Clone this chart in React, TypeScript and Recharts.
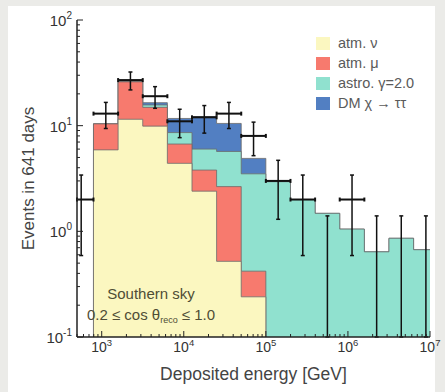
import React from 'react';
import { ComposedChart, Area, Scatter, ErrorBar, XAxis, YAxis, Legend } from 'recharts';

// log10 of the bin edges (GeV)
const binEdgesLog = [2.6, 2.9, 3.2, 3.5, 3.8, 4.1, 4.4, 4.7, 5.0, 5.3, 5.6, 5.9, 6.2, 6.5, 6.8, 7.1];
// model components per bin
const atmNu = [0, 5.9, 11.5, 9.9, 4.4, 2.4, 0.52, 0.24, 0, 0, 0, 0, 0, 0, 0];
const atmMu = [0, 4.5, 14.5, 5.0, 2.3, 1.4, 2.13, 0.18, 0, 0, 0, 0, 0, 0, 0];
const astro = [0, 0, 0, 0.8, 1.9, 2.2, 3.05, 3.08, 2.95, 2.0, 1.48, 1.05, 0.64, 0.86, 0.67];
const darkMatter = [0, 0, 0, 0.8, 3.1, 6.2, 4.8, 1.4, 0.05, 0, 0, 0, 0, 0, 0];
// observed events and their error bars (upper end for empty bins is an upper value)
const observed = [2, 13, 27, 19, 11, 12, 13, 8, 3, 2, 0, 2, 0, 0, 0];
const errLow = [1.41, 3.6, 5.2, 4.4, 3.3, 3.5, 3.6, 2.8, 1.7, 1.41, 0, 1.41, 0, 0, 0];
const errHigh = [1.41, 3.6, 5.2, 4.4, 3.3, 3.5, 3.6, 2.8, 1.7, 1.41, 1.4, 1.41, 1.4, 1.4, 1.4];

const xMajorTicks = [1e3, 1e4, 1e5, 1e6, 1e7];
const yMajorTicks = [0.1, 1, 10, 100];
const minorMultipliers = [2, 3, 4, 5, 6, 7, 8, 9];

const seriesNames = ['atm. ν', 'atm. μ', 'astro. γ=2.0', 'DM χ → ττ'];
const seriesColors = ['#fbf7c0', '#f77a6e', '#90e1cf', '#527fc2'];

const annotationLine1 = 'Southern sky';

const X_DOMAIN = [500, 1e7];
const Y_DOMAIN = [0.1, 100];
const FLOOR = 1e-3; // stand-in for zero on the log axis (clipped away)

const withMinors = (majors: number[], lo: number, hi: number) => {
  const out: number[] = [];
  majors.forEach((m) => {
    out.push(m);
    minorMultipliers.forEach((k) => out.push((m / 10) * k));
  });
  return out.filter((v) => v >= lo && v <= hi).sort((a, b) => a - b);
};
const xTicks = withMinors([...xMajorTicks], X_DOMAIN[0], X_DOMAIN[1]);
const yTicks = withMinors([...yMajorTicks], Y_DOMAIN[0], Y_DOMAIN[1]);

const edges = binEdgesLog.map((l) => Math.pow(10, l));
const nBins = observed.length;

const areaData = (() => {
  const rows: any[] = [];
  for (let i = 0; i <= nBins; i++) {
    const b = Math.min(i, nBins - 1);
    const c1 = atmNu[b];
    const c2 = c1 + atmMu[b];
    const c3 = c2 + astro[b];
    const c4 = c3 + darkMatter[b];
    const f = (v: number) => (v > 0 ? v : FLOOR);
    rows.push({ x: edges[i], c1: f(c1), c2: f(c2), c3: f(c3), c4: f(c4) });
  }
  return rows;
})();

const centers = binEdgesLog.slice(0, nBins).map((l, i) => Math.pow(10, (l + binEdgesLog[i + 1]) / 2));
const clampX = (v: number) => Math.min(Math.max(v, X_DOMAIN[0]), X_DOMAIN[1]);
const obsPoints = observed
  .map((n, i) => ({
    x: centers[i],
    y: n,
    ex: [centers[i] - clampX(edges[i]), clampX(edges[i + 1]) - centers[i]],
    ey: [errLow[i], errHigh[i]],
  }))
  .filter((p) => p.y > 0);
// empty bins: drawn from the axis floor up to the upper value
const zeroPoints = observed
  .map((n, i) => ({ x: centers[i], y: Y_DOMAIN[0], ey: [0, errHigh[i] - Y_DOMAIN[0]], n }))
  .filter((p) => p.n === 0);

const isMajor = (v: number) => Math.abs(Math.log10(v) - Math.round(Math.log10(v))) < 1e-6;
const TICK = '#222';

const BottomTick = (props: any) => {
  const { x, y, payload } = props;
  const v = payload.value;
  const major = isMajor(v);
  const exp = Math.round(Math.log10(v));
  return (
    <g>
      <line x1={x} x2={x} y1={y} y2={y - (major ? 6 : 3)} stroke={TICK} strokeWidth={1} />
      {major && (
        <text x={x} y={y + 15} textAnchor="middle" fontSize={14} fill="#333">
          10<tspan dy={-6} fontSize={9.5}>{exp}</tspan>
        </text>
      )}
    </g>
  );
};
const TopTick = (props: any) => {
  const { x, y, payload } = props;
  const major = isMajor(payload.value);
  return <line x1={x} x2={x} y1={y} y2={y + (major ? 6 : 3)} stroke={TICK} strokeWidth={1} />;
};
const LeftTick = (props: any) => {
  const { x, y, payload } = props;
  const v = payload.value;
  const major = isMajor(v);
  const exp = Math.round(Math.log10(v));
  return (
    <g>
      <line x1={x} x2={x + (major ? 6 : 3)} y1={y} y2={y} stroke={TICK} strokeWidth={1} />
      {major && (
        <text x={x - 5} y={y + 6} textAnchor="end" fontSize={15} fill="#333">
          10<tspan dy={-7} fontSize={10}>{exp}</tspan>
        </text>
      )}
    </g>
  );
};
const RightTick = (props: any) => {
  const { x, y, payload } = props;
  const major = isMajor(payload.value);
  return <line x1={x} x2={x - (major ? 6 : 3)} y1={y} y2={y} stroke={TICK} strokeWidth={1} />;
};

const EmptyShape = () => <g />;

const LegendContent = () => (
  <div style={{ fontFamily: '"Liberation Sans", Arial, sans-serif' }}>
    {seriesNames.map((name, i) => (
      <div key={name} style={{ display: 'flex', alignItems: 'center', height: 20 }}>
        <span
          style={{
            display: 'inline-block',
            width: 14,
            height: 13,
            background: seriesColors[i],
            marginRight: 8,
          }}
        />
        <span style={{ fontSize: 14.5, color: '#5a5a5a', whiteSpace: 'nowrap' }}>{name}</span>
      </div>
    ))}
  </div>
);

const axisLine = { stroke: '#222', strokeWidth: 1.5 };
const outline = '#6b6b6b';

export default function App() {
  return (
    <div
      style={{
        position: 'fixed',
        left: 0,
        top: 0,
        width: 445,
        height: 392,
        background: '#ebebe8',
        overflow: 'hidden',
        fontFamily: '"Liberation Sans", Arial, sans-serif',
      }}
    >
      <div style={{ position: 'absolute', left: 8, top: 6, width: 427, height: 386, background: '#ffffff' }} />
      <div style={{ position: 'absolute', left: 0, top: 0 }}>
        <ComposedChart width={445} height={392} data={areaData} margin={{ top: 20, right: 15, bottom: 0, left: 0 }}>
          <XAxis
            dataKey="x"
            type="number"
            scale="log"
            domain={X_DOMAIN}
            allowDataOverflow
            ticks={xTicks}
            interval={0}
            tick={BottomTick}
            tickLine={false}
            tickSize={0}
            tickMargin={0}
            height={55}
            axisLine={axisLine}
            label={{ value: 'Deposited energy [GeV]', position: 'insideBottom', offset: 12, fontSize: 17.5, fill: '#444' }}
          />
          <XAxis
            xAxisId="top"
            orientation="top"
            type="number"
            scale="log"
            domain={X_DOMAIN}
            allowDataOverflow
            ticks={xTicks}
            interval={0}
            tick={TopTick}
            tickLine={false}
            tickSize={0}
            tickMargin={0}
            height={0}
            axisLine={axisLine}
          />
          <YAxis
            type="number"
            scale="log"
            domain={Y_DOMAIN}
            allowDataOverflow
            ticks={yTicks}
            interval={0}
            tick={LeftTick}
            tickLine={false}
            tickSize={0}
            tickMargin={0}
            width={77}
            axisLine={axisLine}
            label={{
              value: 'Events in 641 days',
              angle: -90,
              position: 'insideLeft',
              offset: 28,
              fontSize: 17,
              fill: '#444',
              style: { textAnchor: 'middle' },
            }}
          />
          <YAxis
            yAxisId="right"
            orientation="right"
            type="number"
            scale="log"
            domain={Y_DOMAIN}
            allowDataOverflow
            ticks={yTicks}
            interval={0}
            tick={RightTick}
            tickLine={false}
            tickSize={0}
            tickMargin={0}
            width={0}
            axisLine={axisLine}
          />
          <Area dataKey="c4" type="stepAfter" baseValue="dataMin" fill={seriesColors[3]} fillOpacity={1} stroke={outline} strokeWidth={0.8} dot={false} activeDot={false} isAnimationActive={false} />
          <Area dataKey="c3" type="stepAfter" baseValue="dataMin" fill={seriesColors[2]} fillOpacity={1} stroke={outline} strokeWidth={0.8} dot={false} activeDot={false} isAnimationActive={false} />
          <Area dataKey="c2" type="stepAfter" baseValue="dataMin" fill={seriesColors[1]} fillOpacity={1} stroke={outline} strokeWidth={0.8} dot={false} activeDot={false} isAnimationActive={false} />
          <Area dataKey="c1" type="stepAfter" baseValue="dataMin" fill={seriesColors[0]} fillOpacity={1} stroke={outline} strokeWidth={0.8} dot={false} activeDot={false} isAnimationActive={false} />
          <Scatter data={obsPoints} dataKey="y" shape={EmptyShape} isAnimationActive={false}>
            <ErrorBar dataKey="ex" direction="x" width={2} stroke="#111" strokeWidth={2} isAnimationActive={false} />
            <ErrorBar dataKey="ey" direction="y" width={2} stroke="#111" strokeWidth={1.5} isAnimationActive={false} />
          </Scatter>
          <Scatter data={zeroPoints} dataKey="y" shape={EmptyShape} isAnimationActive={false}>
            <ErrorBar dataKey="ey" direction="y" width={2} stroke="#111" strokeWidth={1.5} isAnimationActive={false} />
          </Scatter>
          <Legend
            layout="horizontal"
            verticalAlign="middle"
            align="center"
            wrapperStyle={{ left: 316, top: 33, width: 125, height: 82 }}
            content={LegendContent}
          />
        </ComposedChart>
      </div>
      <svg
        width={445}
        height={392}
        style={{ position: 'absolute', left: 0, top: 0, pointerEvents: 'none' }}
      >
        <g fill="#4f4d35" fontSize={15}>
          <text x={151} y={299} textAnchor="middle">{annotationLine1}</text>
          <text x={151} y={320} textAnchor="middle">
            0.2 ≤ cos θ<tspan fontSize={9} dy={3}>reco</tspan>
            <tspan dy={-3}> ≤ 1.0</tspan>
          </text>
        </g>
      </svg>
    </div>
  );
}
